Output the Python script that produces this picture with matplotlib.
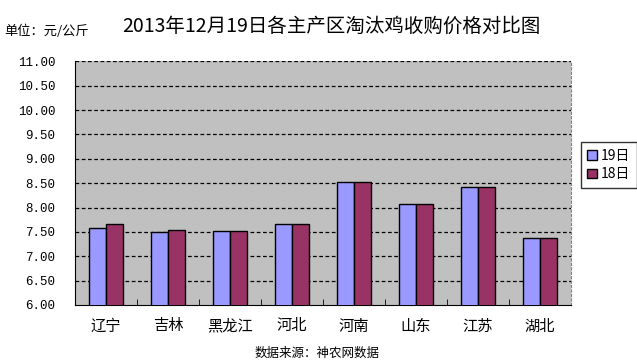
import numpy as np
import matplotlib.pyplot as plt
from matplotlib.patches import Patch

plt.rcParams['font.family'] = ['Noto Sans CJK SC', 'DejaVu Sans']

regions = ['辽宁', '吉林', '黑龙江', '河北', '河南', '山东', '江苏', '湖北']
price_19 = [7.58, 7.50, 7.52, 7.66, 8.53, 8.07, 8.42, 7.38]
price_18 = [7.66, 7.54, 7.52, 7.66, 8.53, 8.07, 8.42, 7.38]
series_names = ['19日', '18日']
title = '2013年12月19日各主产区淘汰鸡收购价格对比图'
unit_text = '单位：元/公斤'
source_text = '数据来源：神农网数据'

fig = plt.figure(figsize=(6.37, 3.62), dpi=100)
ax = fig.add_axes([0.1177, 0.1575, 0.7787, 0.6732])
ax.set_facecolor('#C0C0C0')

x = np.arange(len(regions))
w = 0.275
ax.bar(x - w / 2, price_19, w, color='#9999FF', edgecolor='black', linewidth=1.0, zorder=3)
ax.bar(x + w / 2, price_18, w, color='#993366', edgecolor='black', linewidth=1.0, zorder=3)

ax.set_ylim(6.0, 11.0)
ax.set_xlim(-0.5, len(regions) - 0.5)
yt = np.arange(6.0, 11.01, 0.5)
ax.set_yticks(yt)
ax.set_yticklabels([f'{v:.2f}' for v in yt], family='Liberation Mono', fontsize=9)
for v in yt[1:]:
    ax.axhline(v, color='black', linestyle=(0, (3, 2)), linewidth=0.9, zorder=1)

ax.set_xticks(x)
ax.set_xticklabels(regions, fontsize=11)
ax.tick_params(axis='x', length=0, pad=9)
ax.tick_params(axis='y', length=0, pad=14)
ax.set_xticks(np.arange(0.5, len(regions) - 1, 1.0), minor=True)
ax.tick_params(axis='x', which='minor', direction='in', length=4, color='black')

ax.spines['left'].set_color('black')
ax.spines['bottom'].set_color('black')
ax.spines['top'].set_visible(False)
ax.spines['right'].set_color('#808080')
ax.spines['right'].set_linestyle((0, (2, 2)))

handles = [Patch(facecolor='#9999FF', edgecolor='black'),
           Patch(facecolor='#993366', edgecolor='black')]
leg = fig.legend(handles, series_names, loc='upper left', bbox_to_anchor=(0.912, 0.607),
                 fontsize=10, frameon=True, fancybox=False, edgecolor='black',
                 handlelength=0.7, handleheight=0.7, handletextpad=0.3,
                 borderpad=0.45, labelspacing=0.35, borderaxespad=0)
leg.get_frame().set_linewidth(1.0)

fig.text(0.521, 0.928, title, ha='center', va='center', fontsize=14)
fig.text(0.006, 0.914, unit_text, ha='left', va='center', fontsize=9.5)
fig.text(0.497, 0.025, source_text, ha='center', va='center', fontsize=9)

fig.savefig('out.png', dpi=100)
